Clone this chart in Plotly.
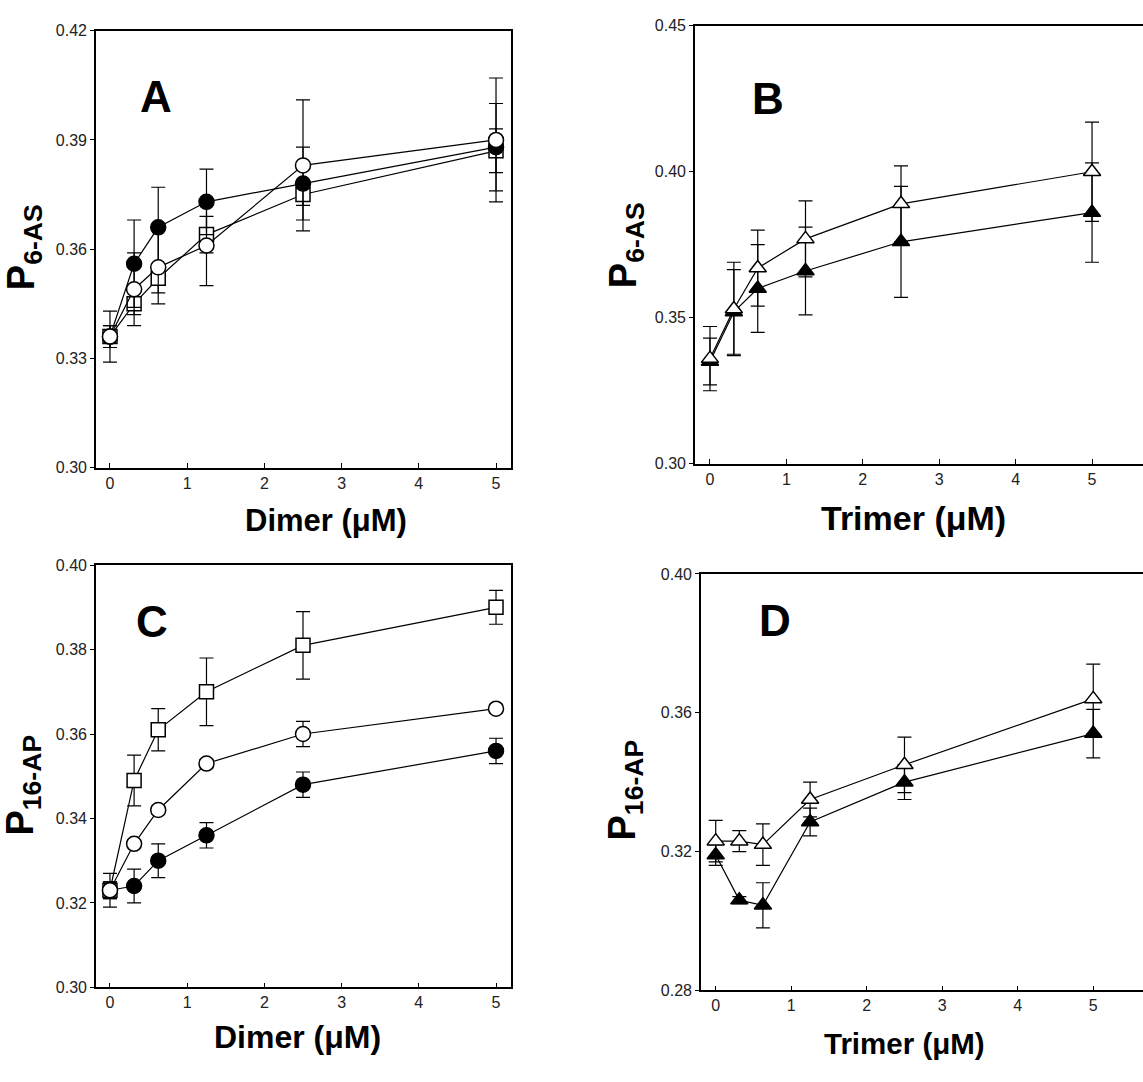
import plotly.graph_objects as go

# ---------------- data ----------------
conc = [0, 0.3125, 0.625, 1.25, 2.5, 5]

# Panel A  (P6-AS vs Dimer)
a_square = [0.336, 0.345, 0.352, 0.364, 0.375, 0.387]
a_square_err = [0.003, 0.003, 0.004, 0.005, 0.003, 0.006]
a_filled = [0.336, 0.356, 0.366, 0.373, 0.378, 0.388]
a_filled_err = [0.003, 0.012, 0.011, 0.009, 0.010, 0.012]
a_open = [0.336, 0.349, 0.355, 0.361, 0.383, 0.390]
a_open_err = [0.007, 0.010, 0.010, 0.011, 0.018, 0.017]

# Panel B  (P6-AS vs Trimer)
b_filled = [0.335, 0.352, 0.360, 0.366, 0.376, 0.386]
b_filled_err = [0.008, 0.0145, 0.015, 0.015, 0.019, 0.017]
b_open = [0.336, 0.353, 0.367, 0.377, 0.389, 0.400]
b_open_err = [0.011, 0.016, 0.013, 0.013, 0.013, 0.017]

# Panel C  (P16-AP vs Dimer)
c_square = [0.323, 0.349, 0.361, 0.370, 0.381, 0.390]
c_square_err = [0.004, 0.006, 0.005, 0.008, 0.008, 0.004]
c_filled = [0.323, 0.324, 0.330, 0.336, 0.348, 0.356]
c_filled_err = [0.002, 0.004, 0.004, 0.003, 0.003, 0.003]
c_open = [0.323, 0.334, 0.342, 0.353, 0.360, 0.366]
c_open_err = [0.002, 0.001, 0.001, 0.001, 0.003, 0.001]

# Panel D  (P16-AP vs Trimer)
d_filled = [0.319, 0.306, 0.3045, 0.3285, 0.340, 0.354]
d_filled_err = [0.003, 0.001, 0.0065, 0.004, 0.005, 0.007]
d_open = [0.323, 0.323, 0.322, 0.335, 0.345, 0.364]
d_open_err = [0.006, 0.003, 0.006, 0.005, 0.008, 0.010]

y_ticks_a = [0.30, 0.33, 0.36, 0.39, 0.42]
y_ticks_b = [0.30, 0.35, 0.40, 0.45]
y_ticks_c = [0.30, 0.32, 0.34, 0.36, 0.38, 0.40]
y_ticks_d = [0.28, 0.32, 0.36, 0.40]
x_ticks = [0, 1, 2, 3, 4, 5]

# ---------------- styling ----------------
W, H = 1143, 1082
FONT = "Liberation Sans, Arial, sans-serif"
LINE_W = 1.2


def px_x(p):
    return p / W


def px_y(p):
    return 1 - p / H


fig = go.Figure()


def add_series(xa, ya, y, err, symbol, fill):
    fig.add_trace(go.Scatter(
        x=conc, y=y, xaxis=xa, yaxis=ya, mode="lines+markers",
        line=dict(color="black", width=LINE_W),
        marker=dict(symbol=symbol, size=15 if "square" not in symbol else 14,
                    color=fill, line=dict(color="black", width=1.5)),
        error_y=dict(type="data", array=err, visible=True, color="black",
                     thickness=LINE_W, width=7),
        showlegend=False, hoverinfo="skip",
    ))


# A
add_series("x", "y", a_square, a_square_err, "square", "white")
add_series("x", "y", a_filled, a_filled_err, "circle", "black")
add_series("x", "y", a_open, a_open_err, "circle", "white")
# B
add_series("x2", "y2", b_filled, b_filled_err, "triangle-up", "black")
add_series("x2", "y2", b_open, b_open_err, "triangle-up", "white")
# C
add_series("x3", "y3", c_square, c_square_err, "square", "white")
add_series("x3", "y3", c_filled, c_filled_err, "circle", "black")
add_series("x3", "y3", c_open, c_open_err, "circle", "white")
# D
add_series("x4", "y4", d_filled, d_filled_err, "triangle-up", "black")
add_series("x4", "y4", d_open, d_open_err, "triangle-up", "white")

tickfont = dict(family=FONT, size=16, color="#222")


def xax(domain, rng, anchor):
    return dict(domain=domain, range=rng, anchor=anchor, tickvals=x_ticks,
                ticks="inside", ticklen=5, tickwidth=1, tickcolor="black",
                showline=True, linecolor="black", linewidth=1.6, mirror=True,
                showgrid=False, zeroline=False, tickfont=tickfont,
                fixedrange=True)


def yax(domain, rng, anchor, tickvals, mirror):
    return dict(domain=domain, range=rng, anchor=anchor, tickvals=tickvals,
                tickformat=".2f", ticks="outside", ticklen=4, tickwidth=1,
                tickcolor="black", showline=True, linecolor="black",
                linewidth=1.6, mirror=mirror, showgrid=False, zeroline=False,
                tickfont=tickfont, fixedrange=True)


fig.update_layout(
    width=W, height=H,
    margin=dict(l=0, r=0, t=0, b=0),
    paper_bgcolor="white", plot_bgcolor="white",
    xaxis=xax([px_x(96), px_x(511)], [-0.181, 5.194], "y"),
    yaxis=yax([px_y(467), px_y(23)], [0.30, 0.42], "x", y_ticks_a, True),
    xaxis2=xax([px_x(695), 1.0], [-0.196, 5.667], "y2"),
    yaxis2=yax([px_y(463), px_y(18)], [0.30, 0.45], "x2", y_ticks_b, False),
    xaxis3=xax([px_x(96), px_x(511)], [-0.181, 5.194], "y3"),
    yaxis3=yax([px_y(995), px_y(566)], [0.30, 0.40], "x3", y_ticks_c, True),
    xaxis4=xax([px_x(701), 1.0], [-0.195, 5.659], "y4"),
    yaxis4=yax([px_y(998), px_y(575)], [0.28, 0.40], "x4", y_ticks_d, False),
)

annotations = []
# panel letters
for txt, (px, py) in {"A": (156, 90), "B": (768, 92), "C": (152, 623), "D": (775, 622)}.items():
    annotations.append(dict(text=f"<b>{txt}</b>", x=px_x(px), y=px_y(py),
                            xref="paper", yref="paper", showarrow=False,
                            xanchor="center", yanchor="middle",
                            font=dict(family=FONT, size=44, color="black")))
# y titles
for txt, (px, py) in [("P<sub>6-AS</sub>", (24, 243)), ("P<sub>6-AS</sub>", (626, 241)),
                      ("P<sub>16-AP</sub>", (23, 790)), ("P<sub>16-AP</sub>", (625, 795))]:
    annotations.append(dict(text=f"<b>{txt}</b>", x=px_x(px), y=px_y(py),
                            xref="paper", yref="paper", showarrow=False,
                            textangle=-90, xanchor="center", yanchor="middle",
                            font=dict(family=FONT, size=38, color="black")))
# x titles
for txt, (px, py), fs in [("Dimer (μM)", (326, 521), 31), ("Trimer (μM)", (913, 518), 34),
                          ("Dimer (μM)", (297, 1045), 32), ("Trimer (μM)", (904, 1052), 29.5)]:
    annotations.append(dict(text=f"<b>{txt}</b>", x=px_x(px), y=px_y(py),
                            xref="paper", yref="paper", showarrow=False,
                            xanchor="center", yanchor="middle",
                            font=dict(family=FONT, size=fs, color="black")))
fig.update_layout(annotations=annotations)

fig.write_html(
    "out.html",
    config={"displayModeBar": False},
    post_script="document.body.style.margin='0';document.body.style.overflow='hidden';",
)
